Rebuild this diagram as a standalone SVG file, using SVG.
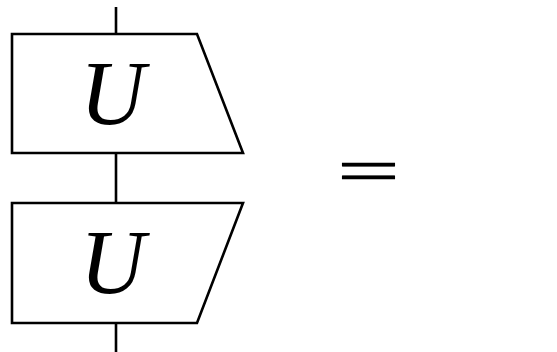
<svg xmlns="http://www.w3.org/2000/svg" width="557" height="352" viewBox="0 0 557 352">
<style>
.shape{fill:#fff;stroke:#000;stroke-width:2.6;stroke-linejoin:miter}
.wire{stroke:#000;stroke-width:2.6;fill:none}
.lbl{font-family:"Liberation Serif",serif;font-style:italic;font-size:90px;fill:#000}
.eq{font-family:"Liberation Serif",serif;font-size:63px;fill:#000;stroke:#000;stroke-width:0.7}
</style>
<rect width="557" height="352" fill="#fff"/>
<g id="connectors">
<line class="wire" x1="116" y1="7" x2="116" y2="34"/>
<line class="wire" x1="116" y1="153" x2="116" y2="203"/>
<line class="wire" x1="116" y1="323" x2="116" y2="352"/>
</g>
<g id="node-top">
<polygon class="shape" points="12,34 197,34 243,153 12,153"/>
<text class="lbl" x="80" y="124">U</text>
</g>
<g id="node-bottom">
<polygon class="shape" points="12,203 243,203 197,323 12,323"/>
<text class="lbl" x="80" y="293">U</text>
</g>
<g id="equals">
<text class="eq" transform="translate(337,192) scale(1.77,1)" x="0" y="0">=</text>
</g>
</svg>
